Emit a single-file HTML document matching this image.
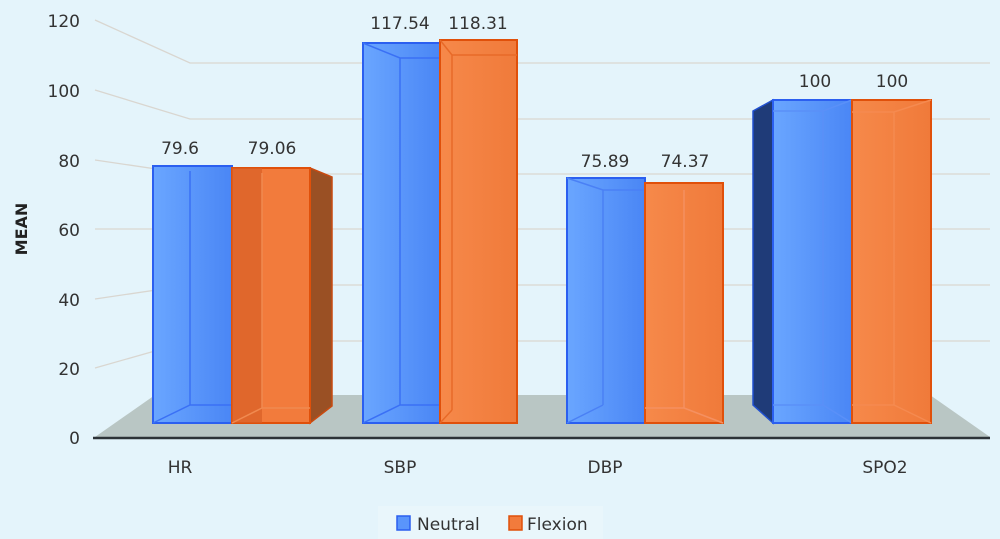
<!DOCTYPE html>
<html><head><style>body{margin:0;background:#e4f4fb}svg{display:block}</style></head><body>
<svg width="1000" height="539" viewBox="0 0 1000 539" xmlns="http://www.w3.org/2000/svg" font-family="DejaVu Sans, sans-serif">
<defs>
<linearGradient id="bl" x1="0" x2="1"><stop offset="0" stop-color="#6aa6ff"/><stop offset="1" stop-color="#4a86f5"/></linearGradient>
<linearGradient id="or" x1="0" x2="1"><stop offset="0" stop-color="#f6894a"/><stop offset="1" stop-color="#f07a3a"/></linearGradient>
</defs>
<rect width="1000" height="539" fill="#e4f4fb"/>
<rect x="378" y="506" width="225" height="33" fill="#e9f6fb"/>
<g stroke="#d9d6d0" stroke-width="1.3" fill="none">
<path d="M95 20 L190 63 H990"/><path d="M95 90 L190 119 H990"/><path d="M95 160 L190 174 H990"/>
<path d="M95 229 L190 229 H990"/><path d="M95 299 L190 285 H990"/><path d="M95 368 L190 341 H990"/>
</g>
<polygon points="95,437 155,395 930,395 990,437" fill="#b9c6c4"/>
<line x1="93" y1="438" x2="990" y2="438" stroke="#2d3338" stroke-width="2.5"/>
<rect x="153" y="166" width="79" height="257" fill="url(#bl)" stroke="#2b5ff0" stroke-width="2"/>
<path d="M190 171V405M153 423L190 405H232" stroke="#3a70f5" fill="none" stroke-width="1.5"/>
<polygon points="310,168 332,177 332,406 310,423" fill="#9a5024" stroke="#c84a10" stroke-width="1.5"/>
<rect x="232" y="168" width="78" height="255" fill="#f27b3c" stroke="#e0500a" stroke-width="2"/>
<rect x="232" y="168" width="30" height="255" fill="#d85f25" opacity=".7"/>
<path d="M262 173V408H310M232 423L262 408" stroke="#f08a50" fill="none" stroke-width="1.5"/>
<rect x="363" y="43" width="77" height="380" fill="url(#bl)" stroke="#2b5ff0" stroke-width="2"/>
<path d="M400 58V405M363 423L400 405H440M363 43L400 58H440" stroke="#3a70f5" fill="none" stroke-width="1.5"/>
<rect x="440" y="40" width="77" height="383" fill="url(#or)" stroke="#e0500a" stroke-width="2"/>
<path d="M440 40L452 55H517M452 55V410M440 423L452 410" stroke="#e86a28" fill="none" stroke-width="1.5"/>
<rect x="567" y="178" width="78" height="245" fill="url(#bl)" stroke="#2b5ff0" stroke-width="2"/>
<path d="M567 178L603 190H645M603 190V405M567 423L603 405" stroke="#4a80f5" fill="none" stroke-width="1.5"/>
<rect x="645" y="183" width="78" height="240" fill="url(#or)" stroke="#e0500a" stroke-width="2"/>
<path d="M684 190V408H645M684 408L723 423" stroke="#f59060" fill="none" stroke-width="1.5"/>
<polygon points="753,111 773,100 773,423 753,405" fill="#1f3b78" stroke="#2050d0" stroke-width="1.5"/>
<rect x="773" y="100" width="79" height="323" fill="url(#bl)" stroke="#2b5ff0" stroke-width="2"/>
<path d="M773 111H823L852 100M823 111V405H773M823 405L852 423" stroke="#5a90f8" fill="none" stroke-width="1.5"/>
<rect x="852" y="100" width="79" height="323" fill="url(#or)" stroke="#e0500a" stroke-width="2"/>
<path d="M852 112H894L931 100M894 112V405H852M894 405L931 423" stroke="#f58a50" fill="none" stroke-width="1.5"/>
<g font-size="17" fill="#333" text-anchor="middle">
<text x="180" y="154">79.6</text><text x="272" y="154">79.06</text>
<text x="400" y="29">117.54</text><text x="478" y="29">118.31</text>
<text x="605" y="167">75.89</text><text x="685" y="167">74.37</text>
<text x="815" y="87">100</text><text x="892" y="87">100</text>
</g>
<g font-size="17" fill="#333" text-anchor="end">
<text x="80" y="444">0</text><text x="80" y="375">20</text><text x="80" y="306">40</text>
<text x="80" y="236">60</text><text x="80" y="167">80</text><text x="80" y="97">100</text><text x="80" y="27">120</text>
</g>
<text transform="translate(27,229) rotate(-90)" font-size="16" font-weight="bold" fill="#222" text-anchor="middle">MEAN</text>
<g font-size="17" fill="#333" text-anchor="middle">
<text x="180" y="473">HR</text><text x="400" y="473">SBP</text><text x="605" y="473">DBP</text><text x="885" y="473">SPO2</text>
</g>
<rect x="397" y="516" width="13" height="14" fill="#5a95fb" stroke="#2b5ff0" stroke-width="1.5"/>
<text x="417" y="530" font-size="17" fill="#333">Neutral</text>
<rect x="509" y="516" width="13" height="14" fill="#f27b3c" stroke="#e0500a" stroke-width="1.5"/>
<text x="527" y="530" font-size="17" fill="#333">Flexion</text>
</svg>
</body></html>
